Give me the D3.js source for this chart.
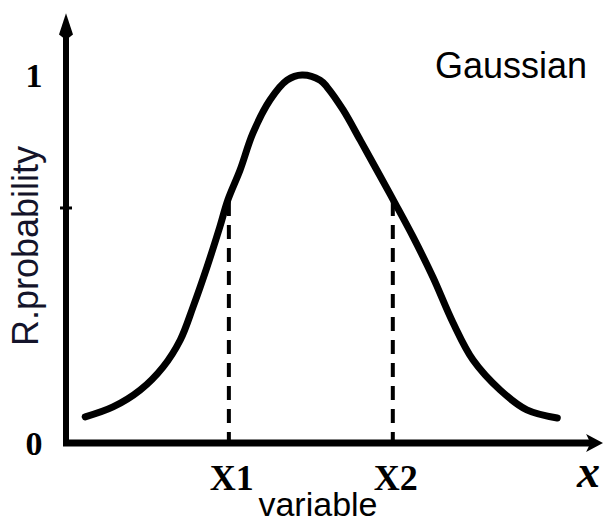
<!DOCTYPE html>
<html>
<head>
<meta charset="utf-8">
<script src="https://cdn.jsdelivr.net/npm/d3@7"></script>
<style>
    html, body { margin: 0; padding: 0; background: #fff; }
    svg { display: block; }
</style>
</head>
<body>
<div class="chart"></div>
<script>
// curve (x in 0..10 units, y relative probability)
const curveX = [0.36, 0.88, 1.39, 1.82, 2.14, 2.38, 2.64, 2.88, 3.03, 3.26, 3.50, 3.82, 4.14, 4.42,
    4.76, 4.89, 5.19, 5.51, 5.82, 6.16, 6.50, 6.87, 7.25, 7.62, 8.13, 8.63, 9.20];
const curveY = [0.071, 0.098, 0.144, 0.207, 0.280, 0.370, 0.478, 0.587, 0.660, 0.742, 0.842, 0.932, 0.986, 1.0,
    0.986, 0.967, 0.905, 0.823, 0.742, 0.652, 0.560, 0.451, 0.326, 0.226, 0.144, 0.090, 0.068];

const markX = [3.05, 6.12];
const markY = [0.655, 0.655];
const markLabels = ['X1', 'X2'];

const yTickValues = [0.64];
const yLabelValues = [0, 1];
const yLabels = ['0', '1'];

const width = 603;
const height = 524;

const x = d3.scaleLinear().domain([0, 10]).range([66, 600]);
const y = d3.scaleLinear().domain([0, 1]).range([443, 75]);

const svg = d3.select('.chart')
    .append('svg')
    .attr('width', width)
    .attr('height', height);

// dashed drop lines
svg.append('g')
    .selectAll('line')
    .data(markX)
    .enter()
    .append('line')
    .attr('x1', d => x(d))
    .attr('x2', d => x(d))
    .attr('y1', (d, i) => y(markY[i]))
    .attr('y2', y(0) + 5)
    .attr('stroke', '#000')
    .attr('stroke-width', 4)
    .attr('stroke-dasharray', '14, 9');

// axes
const yAxisG = svg.append('g').attr('transform', `translate(${x(0)},0)`);
yAxisG.append('line')
    .attr('x1', 0).attr('x2', 0)
    .attr('y1', y(0) + 3).attr('y2', y(1.12))
    .attr('stroke', '#000')
    .attr('stroke-width', 6);
yAxisG.append('path')
    .attr('d', `M0,${y(1.168)} L7,${y(1.11)} L0,${y(1.095)} L-7,${y(1.11)} Z`)
    .attr('fill', '#000');
yAxisG.call(d3.axisLeft(y).tickValues(yTickValues).tickSize(6).tickFormat(''))
    .call(g => g.select('.domain').remove())
    .call(g => g.selectAll('.tick line').attr('stroke-width', 3).attr('x2', 6).attr('x1', -6));

const xAxisG = svg.append('g').attr('transform', `translate(0,${y(0)})`);
xAxisG.append('line')
    .attr('x1', x(0) - 3).attr('x2', x(9.9))
    .attr('y1', 0).attr('y2', 0)
    .attr('stroke', '#000')
    .attr('stroke-width', 7);
xAxisG.append('path')
    .attr('d', `M${x(10.06)},0 L${x(9.74)},-9 L${x(9.82)},0 L${x(9.74)},9 Z`)
    .attr('fill', '#000');

// y labels 0 and 1
svg.append('g')
    .selectAll('text')
    .data(yLabelValues)
    .enter()
    .append('text')
    .attr('x', 34)
    .attr('y', d => y(d))
    .attr('dy', '0.36em')
    .attr('text-anchor', 'middle')
    .style('font-family', 'Liberation Serif')
    .style('font-weight', 'bold')
    .style('font-size', '34px')
    .text((d, i) => yLabels[i]);

// X1 / X2 labels
svg.append('g')
    .selectAll('text')
    .data(markX)
    .enter()
    .append('text')
    .attr('x', d => x(d) + 3)
    .attr('y', 490)
    .attr('text-anchor', 'middle')
    .style('font-family', 'Liberation Serif')
    .style('font-weight', 'bold')
    .style('font-size', '36px')
    .text((d, i) => markLabels[i]);

// the curve
const points = curveX.map((d, i) => [d, curveY[i]]);
svg.append('path')
    .datum(points)
    .attr('d', d3.line().x(d => x(d[0])).y(d => y(d[1])).curve(d3.curveCatmullRom))
    .attr('fill', 'none')
    .attr('stroke', '#000')
    .attr('stroke-width', 7)
    .attr('stroke-linecap', 'round');

// titles
svg.append('text')
    .attr('x', 435)
    .attr('y', 78)
    .style('font-family', 'Liberation Sans')
    .style('font-size', '36px')
    .attr('fill', '#000')
    .text('Gaussian');

svg.append('text')
    .attr('x', 318)
    .attr('y', 516)
    .attr('text-anchor', 'middle')
    .style('font-family', 'Liberation Sans')
    .style('font-size', '34px')
    .attr('fill', '#000')
    .text('variable');

svg.append('text')
    .attr('transform', 'translate(38,246) rotate(-90)')
    .attr('text-anchor', 'middle')
    .style('font-family', 'Liberation Sans')
    .style('font-size', '36px')
    .attr('fill', '#14142a')
    .text('R.probability');

svg.append('text')
    .attr('x', 577)
    .attr('y', 487)
    .style('font-family', 'Liberation Serif')
    .style('font-style', 'italic')
    .style('font-weight', 'bold')
    .style('font-size', '46px')
    .attr('fill', '#000')
    .text('x');
</script>
</body>
</html>
